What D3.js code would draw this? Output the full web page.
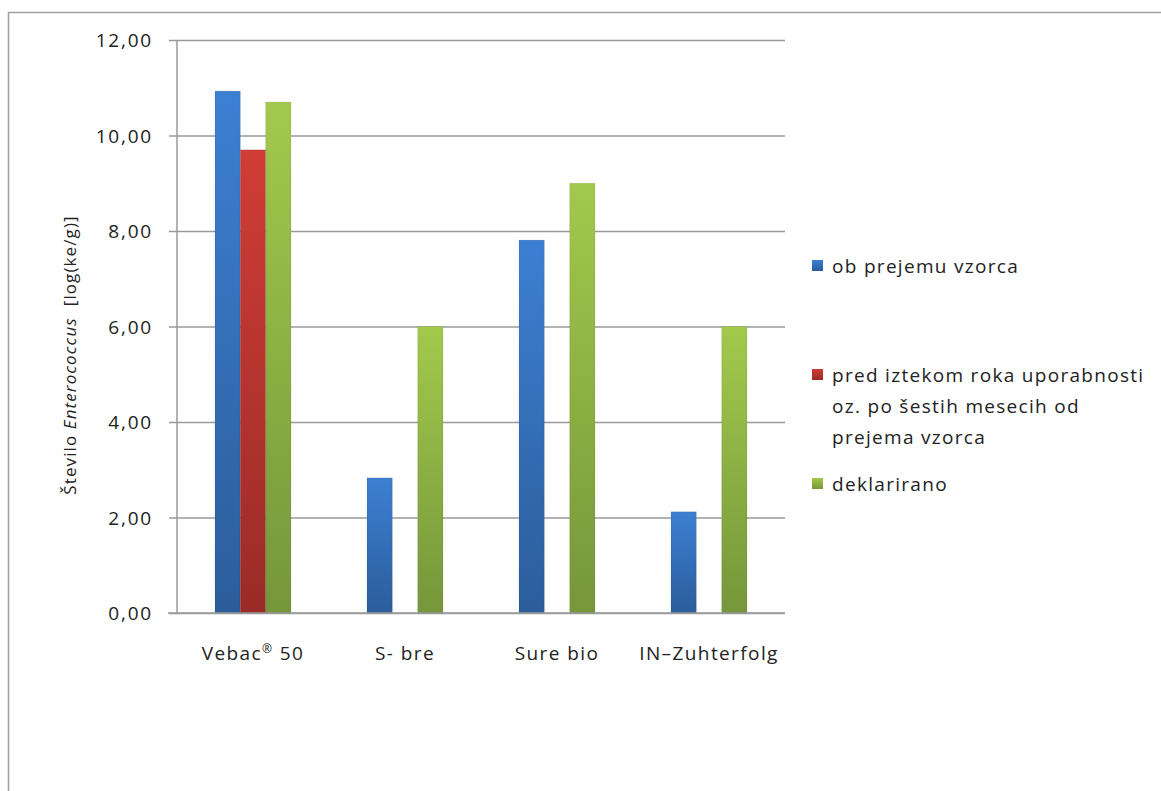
<!DOCTYPE html>
<html>
<head>
<meta charset="utf-8">
<title>Enterococcus</title>
<style>
    body { margin: 0; background: #fff; }
    text { font-family: "Open Sans", sans-serif; fill: #222; }
</style>
</head>
<body>
<div id="chart"></div>
<script src="https://d3js.org/d3.v7.min.js"></script>
<script>
    // data
    var categories = ["Vebac® 50", "S- bre", "Sure bio", "IN–Zuhterfolg"];
    var seriesNames = ["ob prejemu vzorca",
        "pred iztekom roka uporabnosti oz. po šestih mesecih od prejema vzorca",
        "deklarirano"];
    var obPrejemu = [10.93, 2.83, 7.81, 2.12];
    var predIztekom = [9.70, null, null, null];
    var deklarirano = [10.70, 6.00, 9.00, 6.00];
    var yTicks = [0, 2, 4, 6, 8, 10, 12];

    var seriesValues = [obPrejemu, predIztekom, deklarirano];
    var colorsTop = ["#3d7fd3", "#d03c36", "#a2c94c"];
    var colorsBottom = ["#2b5d9a", "#9a2b27", "#76963a"];
    var legendLines = [["ob prejemu vzorca"],
        ["pred iztekom roka uporabnosti", "oz. po šestih mesecih od", "prejema vzorca"],
        ["deklarirano"]];

    var W = 1161, H = 791;
    var plot = { left: 177, right: 785, top: 40, bottom: 613 };

    var svg = d3.select("#chart").append("svg")
        .attr("width", W).attr("height", H);

    // outer frame, runs off the right and bottom edge
    svg.append("rect")
        .attr("x", 8.5).attr("y", 12.5)
        .attr("width", W + 20).attr("height", H + 20)
        .attr("fill", "none").attr("stroke", "#a0a0a0").attr("stroke-width", 1.5);

    var defs = svg.append("defs");
    seriesValues.forEach(function (s, i) {
        var g = defs.append("linearGradient").attr("id", "grad" + i)
            .attr("x1", 0).attr("y1", 0).attr("x2", 0).attr("y2", 1);
        g.append("stop").attr("offset", "0%").attr("stop-color", colorsTop[i]);
        g.append("stop").attr("offset", "100%").attr("stop-color", colorsBottom[i]);
    });

    var y = d3.scaleLinear().domain([0, 12]).range([plot.bottom, plot.top]);
    var x = d3.scaleBand().domain(categories).range([plot.left, plot.right]);
    // gap width 100%: bars take half of each band
    var x1 = d3.scaleBand().domain(d3.range(seriesValues.length))
        .range([x.bandwidth() / 4, x.bandwidth() * 3 / 4]);

    // gridlines + y labels
    var yAxis = svg.append("g")
        .attr("transform", "translate(" + plot.left + ",0)")
        .call(d3.axisLeft(y).tickValues(yTicks)
            .tickSize(-(plot.right - plot.left))
            .tickFormat(function (d) { return d3.format(".2f")(d).replace(".", ","); }));
    yAxis.select(".domain").remove();
    yAxis.selectAll(".tick line").attr("stroke", "#9a9a9a").attr("stroke-width", 1.5)
        .attr("x1", -8);
    yAxis.selectAll(".tick text").attr("x", -24).attr("dy", "0.35em")
        .style("font-size", "19px").style("letter-spacing", "1.8px")
        .style("font-family", "Open Sans").style("fill", "#222");

    // y axis line
    svg.append("line")
        .attr("x1", plot.left).attr("x2", plot.left)
        .attr("y1", plot.top).attr("y2", plot.bottom)
        .attr("stroke", "#9a9a9a").attr("stroke-width", 1.5);

    // bars
    var groups = svg.selectAll(".grp").data(categories).enter().append("g")
        .attr("transform", function (d) { return "translate(" + x(d) + ",0)"; });
    groups.each(function (cat, ci) {
        var g = d3.select(this);
        seriesValues.forEach(function (s, si) {
            var v = s[ci];
            if (v == null) return;
            g.append("rect")
                .attr("x", x1(si))
                .attr("y", y(v))
                .attr("width", x1.bandwidth())
                .attr("height", y(0) - y(v))
                .attr("fill", "url(#grad" + si + ")")
                .attr("stroke", "rgba(0,0,0,0.08)")
                .attr("stroke-width", 1);
        });
    });

    // x axis line + labels
    svg.append("line")
        .attr("x1", plot.left - 9).attr("x2", plot.right)
        .attr("y1", plot.bottom).attr("y2", plot.bottom)
        .attr("stroke", "#9a9a9a").attr("stroke-width", 1.5);
    var xAxis = svg.append("g")
        .attr("transform", "translate(0," + plot.bottom + ")")
        .call(d3.axisBottom(x).tickSize(0));
    xAxis.select(".domain").remove();
    xAxis.selectAll(".tick text").attr("y", 34)
        .style("font-size", "19px").style("letter-spacing", "1.4px")
        .style("font-family", "Open Sans").style("fill", "#222")
        .each(function (d) {
            // registered sign sits raised and small
            var parts = d.split("®");
            if (parts.length < 2) return;
            var t = d3.select(this).text(null);
            t.append("tspan").text(parts[0]);
            t.append("tspan").attr("dy", "-7px").style("font-size", "12px").text("®");
            t.append("tspan").attr("dy", "7px").text(parts[1]);
        });

    // y title
    var yt = svg.append("text")
        .attr("transform", "translate(76,355) rotate(-90)")
        .attr("text-anchor", "middle")
        .style("font-size", "17px").style("letter-spacing", "1.1px");
    yt.append("tspan").text("Število ");
    yt.append("tspan").style("font-style", "italic").text("Enterococcus");
    yt.append("tspan").attr("xml:space", "preserve").text("  [log(ke/g)]");

    // legend
    var legendY = [266, 375, 484];
    legendLines.forEach(function (lines, i) {
        svg.append("rect")
            .attr("x", 812).attr("y", legendY[i] - 6)
            .attr("width", 11).attr("height", 11)
            .attr("fill", "url(#grad" + i + ")");
        var t = svg.append("text").attr("x", 832).attr("y", legendY[i])
            .style("font-size", "19px").style("letter-spacing", "1.3px");
        lines.forEach(function (l, j) {
            t.append("tspan").attr("x", 832).attr("dy", j === 0 ? "0.35em" : "31px").text(l);
        });
    });
</script>
</body>
</html>
